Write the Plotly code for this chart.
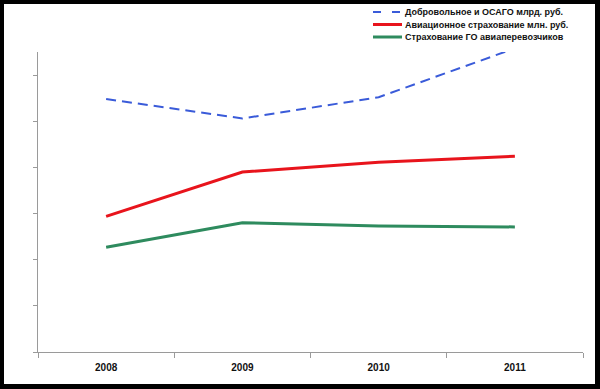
import plotly.graph_objects as go

years = ["2008", "2009", "2010", "2011"]
voluntary_osago = [5.48, 5.06, 5.52, 6.58]   # Добровольное и ОСАГО млрд. руб.
aviation = [2.94, 3.90, 4.11, 4.24]          # Авиационное страхование млн. руб.
go_carriers = [2.27, 2.80, 2.73, 2.71]       # Страхование ГО авиаперевозчиков
series_names = [
    "Добровольное и ОСАГО млрд. руб.",
    "Авиационное страхование млн. руб.",
    "Страхование ГО авиаперевозчиков",
]

W, H = 600, 389
L, R, T, B = 38, 17, 52, 37
pw, ph = W - L - R, H - T - B

def px_x(x):
    return (x - L) / pw

def px_y(y):
    return (H - B - y) / ph

fig = go.Figure()
styles = [
    dict(color="#3a5bd9", width=2, dash="10px,6px"),
    dict(color="#e8141c", width=3),
    dict(color="#2e8b5e", width=3),
]
for name, vals, st in zip(series_names, [voluntary_osago, aviation, go_carriers], styles):
    fig.add_trace(go.Scatter(x=years, y=vals, mode="lines", name=name, line=st,
                             showlegend=False, hoverinfo="skip"))

shapes = [
    # white canvas inside black frame
    dict(type="rect", xref="paper", yref="paper",
         x0=px_x(4), x1=px_x(W - 5), y0=px_y(H - 5), y1=px_y(4),
         fillcolor="white", line=dict(width=0), layer="below"),
]
annotations = []
rows_y = [12, 24.5, 37]
for (name, st, ry) in zip(series_names, styles, rows_y):
    shapes.append(dict(type="line", xref="paper", yref="paper",
                       x0=px_x(373), x1=px_x(402), y0=px_y(ry), y1=px_y(ry),
                       line=dict(color=st["color"], width=st["width"],
                                 dash="8px,11px" if "dash" in st else "solid")))
    annotations.append(dict(xref="paper", yref="paper", x=px_x(403), y=px_y(ry),
                            xanchor="left", yanchor="middle", showarrow=False,
                            text=name,
                            font=dict(family="Liberation Sans", size=9,
                                      color="#111", weight="bold")))

fig.update_layout(
    width=W, height=H,
    margin=dict(l=L, r=R, t=T, b=B),
    paper_bgcolor="black",
    plot_bgcolor="white",
    shapes=shapes,
    annotations=annotations,
    hovermode=False,
    xaxis=dict(type="category", range=[-0.5, 3.5], tickson="boundaries",
               ticks="outside", ticklen=5, tickcolor="#9a9a9a",
               ticklabelstandoff=6,
               showline=True, linecolor="#9a9a9a", linewidth=1,
               showgrid=False, zeroline=False,
               tickfont=dict(family="Liberation Sans", size=10, color="#111",
                             weight="bold")),
    yaxis=dict(range=[0, 6.5], dtick=1, showticklabels=False,
               ticks="outside", ticklen=4, tickcolor="#9a9a9a",
               showline=True, linecolor="#9a9a9a", linewidth=1,
               showgrid=False, zeroline=False),
)

fig.write_html("out.html",
               config={"displayModeBar": False, "staticPlot": True},
               post_script="document.body.style.margin='0';"
                           "document.body.style.background='black';")
